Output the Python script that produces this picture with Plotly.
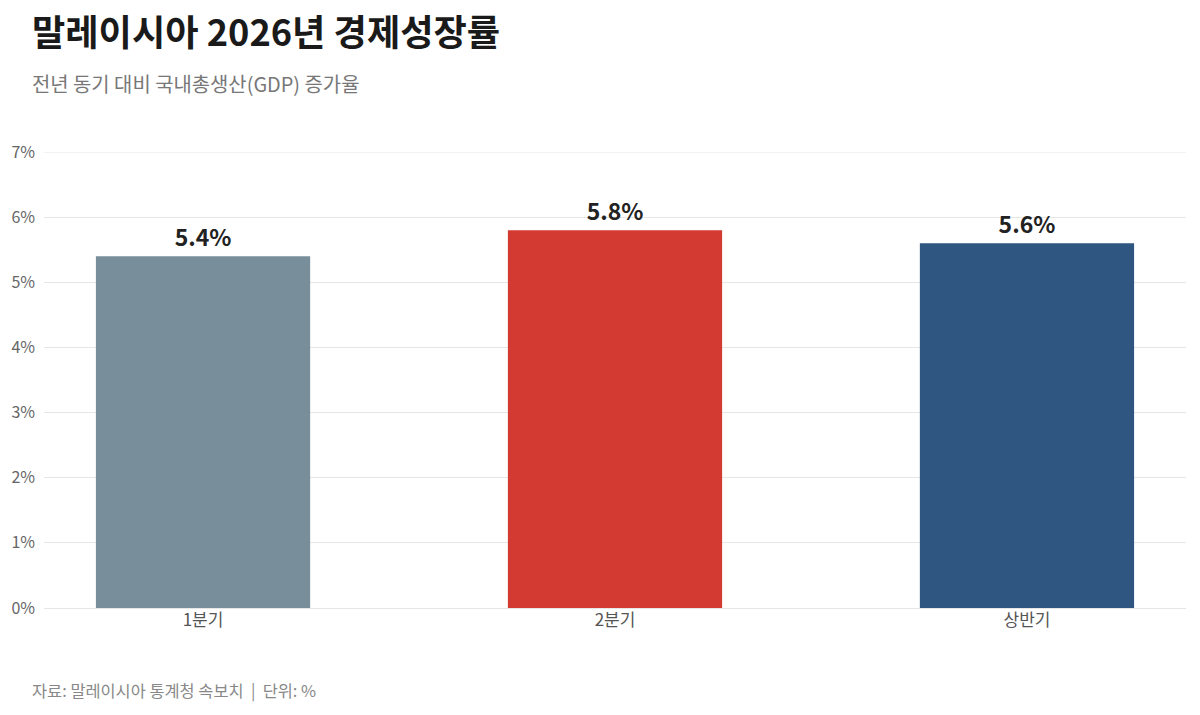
import plotly.graph_objects as go

categories = ["1분기", "2분기", "상반기"]
values = [5.4, 5.8, 5.6]
colors = ["#788e9a", "#d33a31", "#2f5581"]
tick_vals = [0, 1, 2, 3, 4, 5, 6, 7]
tick_text = [f"{v}%" for v in tick_vals]

FONT = "Noto Sans CJK KR"
GRID = "#e6e6e6"

fig = go.Figure()
fig.add_trace(go.Bar(
    x=categories, y=values,
    marker=dict(color=colors, line=dict(width=0)),
    width=0.52,
    text=[f"{v:.1f}%" for v in values],
    textposition="outside",
    textfont=dict(family=FONT, size=23, color="#222222", weight="bold"),
    cliponaxis=False,
    hoverinfo="skip",
))

# top gridline at the highest tick (plotly skips the grid line on the range edge)
fig.add_shape(type="line", xref="paper", x0=0, x1=1, yref="y",
              y0=tick_vals[-1], y1=tick_vals[-1],
              line=dict(color=GRID, width=1), layer="below")

fig.update_layout(
    width=1200, height=715,
    margin=dict(l=44, r=14, t=152, b=107),
    paper_bgcolor="white", plot_bgcolor="white",
    font=dict(family=FONT, color="#555555"),
    showlegend=False,
    bargap=0.48,
    xaxis=dict(
        range=[-0.386, 2.386],
        tickfont=dict(family=FONT, size=17, color="#555555"),
        showgrid=False, showline=False, ticks="",
        fixedrange=True,
    ),
    yaxis=dict(
        range=[0, 7],
        tickvals=tick_vals, ticktext=tick_text,
        tickfont=dict(family=FONT, size=16, color="#666666"),
        showgrid=True, gridcolor=GRID, gridwidth=1,
        zeroline=True, zerolinecolor=GRID, zerolinewidth=1,
        showline=False, ticks="", ticklabelstandoff=8,
    ),
    annotations=[
        dict(text="<b>말레이시아 2026년 경제성장률</b>", xref="paper", yref="paper",
             x=-0.0122, y=1.0, xanchor="left", yanchor="middle",
             yshift=152 - 30, showarrow=False,
             font=dict(family=FONT, size=36.2, color="#1a1a1a")),
        dict(text="전년 동기 대비 국내총생산(GDP) 증가율", xref="paper", yref="paper",
             x=-0.0122, y=1.0, xanchor="left", yanchor="middle",
             yshift=152 - 83, showarrow=False,
             font=dict(family=FONT, size=19.9, color="#777777")),
        dict(text="자료: 말레이시아 통계청 속보치  |  단위: %", xref="paper", yref="paper",
             x=-0.0122, y=0.0, xanchor="left", yanchor="middle",
             yshift=-(690 - 608), showarrow=False,
             font=dict(family=FONT, size=16.4, color="#888888")),
    ],
)

fig.write_html("out.html")
